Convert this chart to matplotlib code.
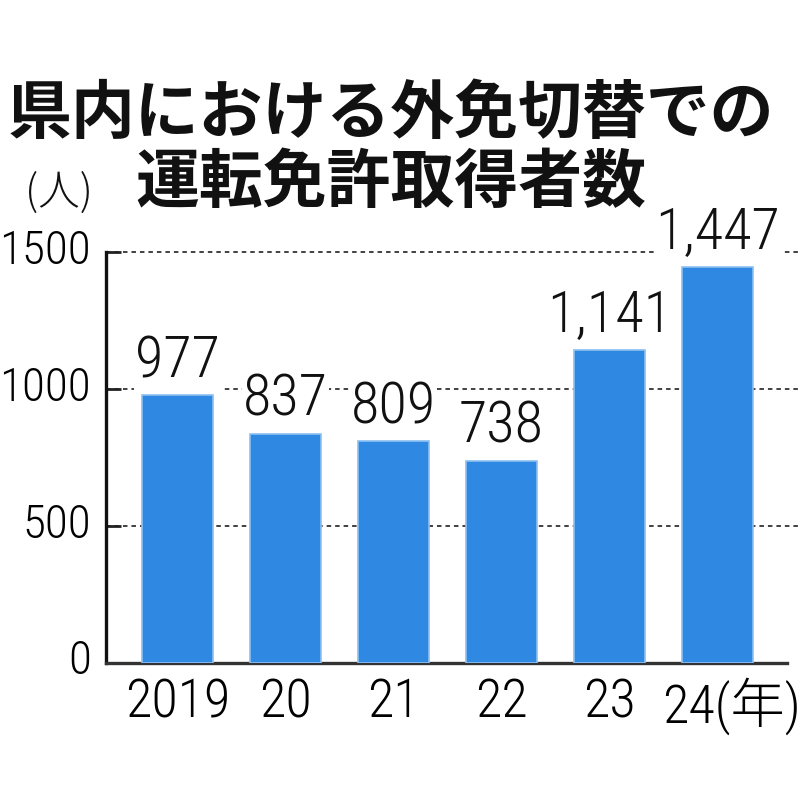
import matplotlib
matplotlib.use('Agg')
import matplotlib.pyplot as plt
import matplotlib.transforms as mtrans
import numpy as np

# データ
years = ['2019', '20', '21', '22', '23', '24']
counts = [977, 837, 809, 738, 1141, 1447]
yticks = [0, 500, 1000, 1500]
title1 = '県内における外免切替での'
title2 = '運転免許取得者数'

num_font = ['Roboto Condensed', 'Noto Sans CJK JP', 'DejaVu Sans']
jp_font = ['Noto Sans CJK JP', 'DejaVu Sans']

fig = plt.figure(figsize=(8, 8), dpi=100)
ax = fig.add_axes([0.1325, 0.17125, 0.85125, 0.51375])

x = np.arange(len(years))
ax.bar(x, counts, width=0.66, color='#2f89e3', edgecolor='#8cc0f2',
       linewidth=1.2, zorder=3)

for xi, v in zip(x, counts):
    ax.text(xi, v + 22, f'{v:,}', ha='center', va='bottom', fontsize=42,
            family=num_font, weight='light', color='#111111', zorder=4,
            bbox=dict(facecolor='white', edgecolor='none', pad=1))

ax.set_xlim(-0.662, 5.643)
ax.set_ylim(0, 1500)

# 点線の目盛り線
for yv in yticks[1:]:
    ax.axhline(yv, color='#333333', lw=1.3, ls=(0, (2.5, 2.2)), zorder=1,
               xmin=0.0, xmax=1.02, clip_on=False)

ax.set_yticks(yticks)
ax.set_yticklabels([str(t) for t in yticks], family=num_font, fontsize=34,
                   weight='light')
ax.set_xticks(x)
labels = years[:-1] + ['24(年)']
ax.set_xticklabels(labels, family=num_font, fontsize=39, weight='light')

ax.tick_params(axis='y', direction='in', length=11, width=2, pad=11,
               color='#222222')
ax.tick_params(axis='x', length=0, pad=10)

lbl = ax.get_xticklabels()[-1]
lbl.set_transform(lbl.get_transform() +
                  mtrans.ScaledTranslation(0.14, 0, fig.dpi_scale_trans))
for t in ax.get_yticklabels():
    t.set_transform(t.get_transform() +
                    mtrans.ScaledTranslation(0, 0.06, fig.dpi_scale_trans))

for s in ['top', 'right']:
    ax.spines[s].set_visible(False)
ax.spines['left'].set_linewidth(2.4)
ax.spines['left'].set_color('#111111')
ax.spines['bottom'].set_linewidth(2.4)
ax.spines['bottom'].set_color('#333333')

fig.text(0.489, 0.857, title1, ha='center', va='center', fontsize=46,
         family=jp_font, weight='bold', color='#111111')
fig.text(0.489, 0.771, title2, ha='center', va='center', fontsize=46,
         family=jp_font, weight='bold', color='#111111')
fig.text(0.074, 0.758, '(人)', ha='center', va='center', fontsize=30,
         family=jp_font, weight='light', color='#111111')

fig.savefig('out.png', dpi=100)
